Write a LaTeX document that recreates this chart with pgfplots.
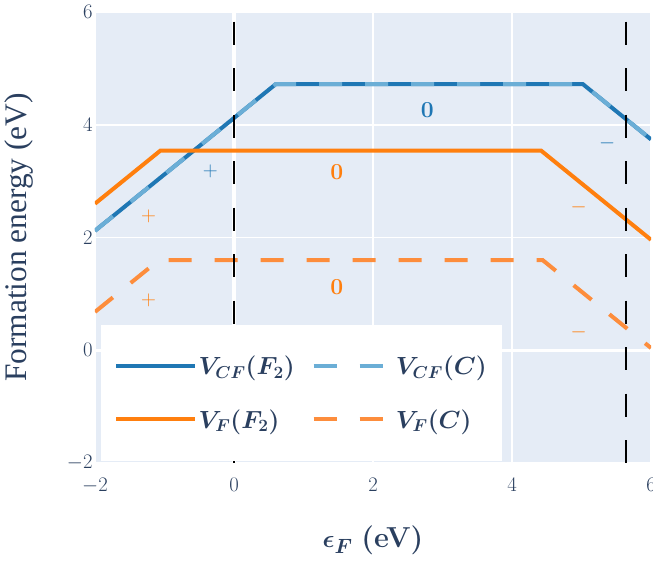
\documentclass[border=0pt]{standalone}
\usepackage{fontspec}
\usepackage{amsmath}
\usepackage{pgfplots}
\pgfplotsset{compat=1.18}
\newfontfamily\timesfont{Liberation Serif}
\definecolor{bg}{HTML}{E5ECF6}
\definecolor{txt}{HTML}{2A3F5F}
\definecolor{dblue}{HTML}{1F77B4}
\definecolor{lblue}{HTML}{6BAED6}
\definecolor{dorange}{HTML}{FF7F0E}
\definecolor{lorange}{HTML}{FD8D3C}
\begin{document}
\begin{tikzpicture}
\begin{axis}[
  scale only axis, width=556bp, height=451bp,
  xmin=-2, xmax=6, ymin=-2, ymax=6,
  axis background/.style={fill=bg},
  axis line style={draw=none},
  grid=major, major grid style={white, line width=1.5bp},
  xtick={-2,0,2,4,6}, ytick={-2,0,2,4,6},
  major tick length=0pt,
  ticklabel style={font=\fontsize{22}{22}\selectfont, text=txt},
  xticklabel style={yshift=-12bp},
  yticklabel style={xshift=1bp},
  xlabel style={at={(axis description cs:0.5,-0.172)}, anchor=center},
  ylabel style={at={(axis description cs:-0.137,0.5)}, anchor=center},
  ylabel={\timesfont\fontsize{31.5}{31.5}\selectfont\color{txt}Formation energy (eV)},
  xlabel={\fontsize{29}{29}\selectfont\color{txt}$\boldsymbol{\epsilon_F}$ \textbf{(eV)}},
  legend columns=2,
  legend cell align=left,
  legend style={at={(rel axis cs:0.011,0.004)}, anchor=south west, fill=white, draw=none,
    font=\fontsize{24}{24}\selectfont, text=txt,
    inner xsep=13bp, inner ysep=15bp,
    nodes={inner ysep=16.5bp},
    /tikz/every even column/.append style={column sep=15bp}},
  legend image post style={xscale=4.6},
]
\addplot[white, line width=3.5bp, forget plot] coordinates {(0,-2) (0,6)};
\addplot[white, line width=3.5bp, forget plot] coordinates {(-2,0) (6,0)};

\addplot[dblue, line width=4bp] coordinates {(-2,2.12) (0.6,4.72) (5.02,4.72) (6,3.74)};
\addlegendentry{$\boldsymbol{V_{CF}(F_2)}$}
\addplot[lblue, line width=4bp, dash pattern=on 23bp off 23bp] coordinates {(-2,2.12) (0.6,4.72) (5.02,4.72) (6,3.74)};
\addlegendentry{$\boldsymbol{V_{CF}(C)}$}
\addplot[dorange, line width=4bp] coordinates {(-2,2.6) (-1.06,3.54) (4.42,3.54) (6,1.96)};
\addlegendentry{$\boldsymbol{V_{F}(F_2)}$}
\addplot[lorange, line width=4bp, dash pattern=on 23bp off 23bp] coordinates {(-2,0.68) (-1.08,1.60) (4.44,1.60) (6,0.04)};
\addlegendentry{$\boldsymbol{V_{F}(C)}$}

\addplot[black, line width=2.5bp, dash pattern=on 23bp off 23.5bp, forget plot] coordinates {(0,6.654) (0,-2)};
\addplot[black, line width=2.5bp, dash pattern=on 23bp off 23.5bp, forget plot] coordinates {(5.64,6.654) (5.64,-2)};

\node[text=dblue, font=\fontsize{21}{21}\selectfont] at (axis cs:-0.34,3.17) {$+$};
\node[text=dorange, font=\fontsize{21}{21}\selectfont] at (axis cs:-1.23,2.38) {$+$};
\node[text=dorange, font=\fontsize{21}{21}\selectfont] at (axis cs:-1.23,0.88) {$+$};
\node[text=dblue, font=\fontsize{23}{23}\selectfont\bfseries] at (axis cs:2.78,4.26) {0};
\node[text=dorange, font=\fontsize{23}{23}\selectfont\bfseries] at (axis cs:1.48,3.16) {0};
\node[text=dorange, font=\fontsize{23}{23}\selectfont\bfseries] at (axis cs:1.48,1.12) {0};
\node[text=dblue, font=\fontsize{21}{21}\selectfont] at (axis cs:5.37,3.67) {$-$};
\node[text=dorange, font=\fontsize{21}{21}\selectfont] at (axis cs:4.96,2.53) {$-$};
\node[text=dorange, font=\fontsize{21}{21}\selectfont] at (axis cs:4.96,0.31) {$-$};
\end{axis}
\pgfresetboundingbox
\path[use as bounding box] (current axis.south west) ++(-95bp,-101bp) rectangle ++(653bp,564bp);
\end{tikzpicture}
\end{document}
